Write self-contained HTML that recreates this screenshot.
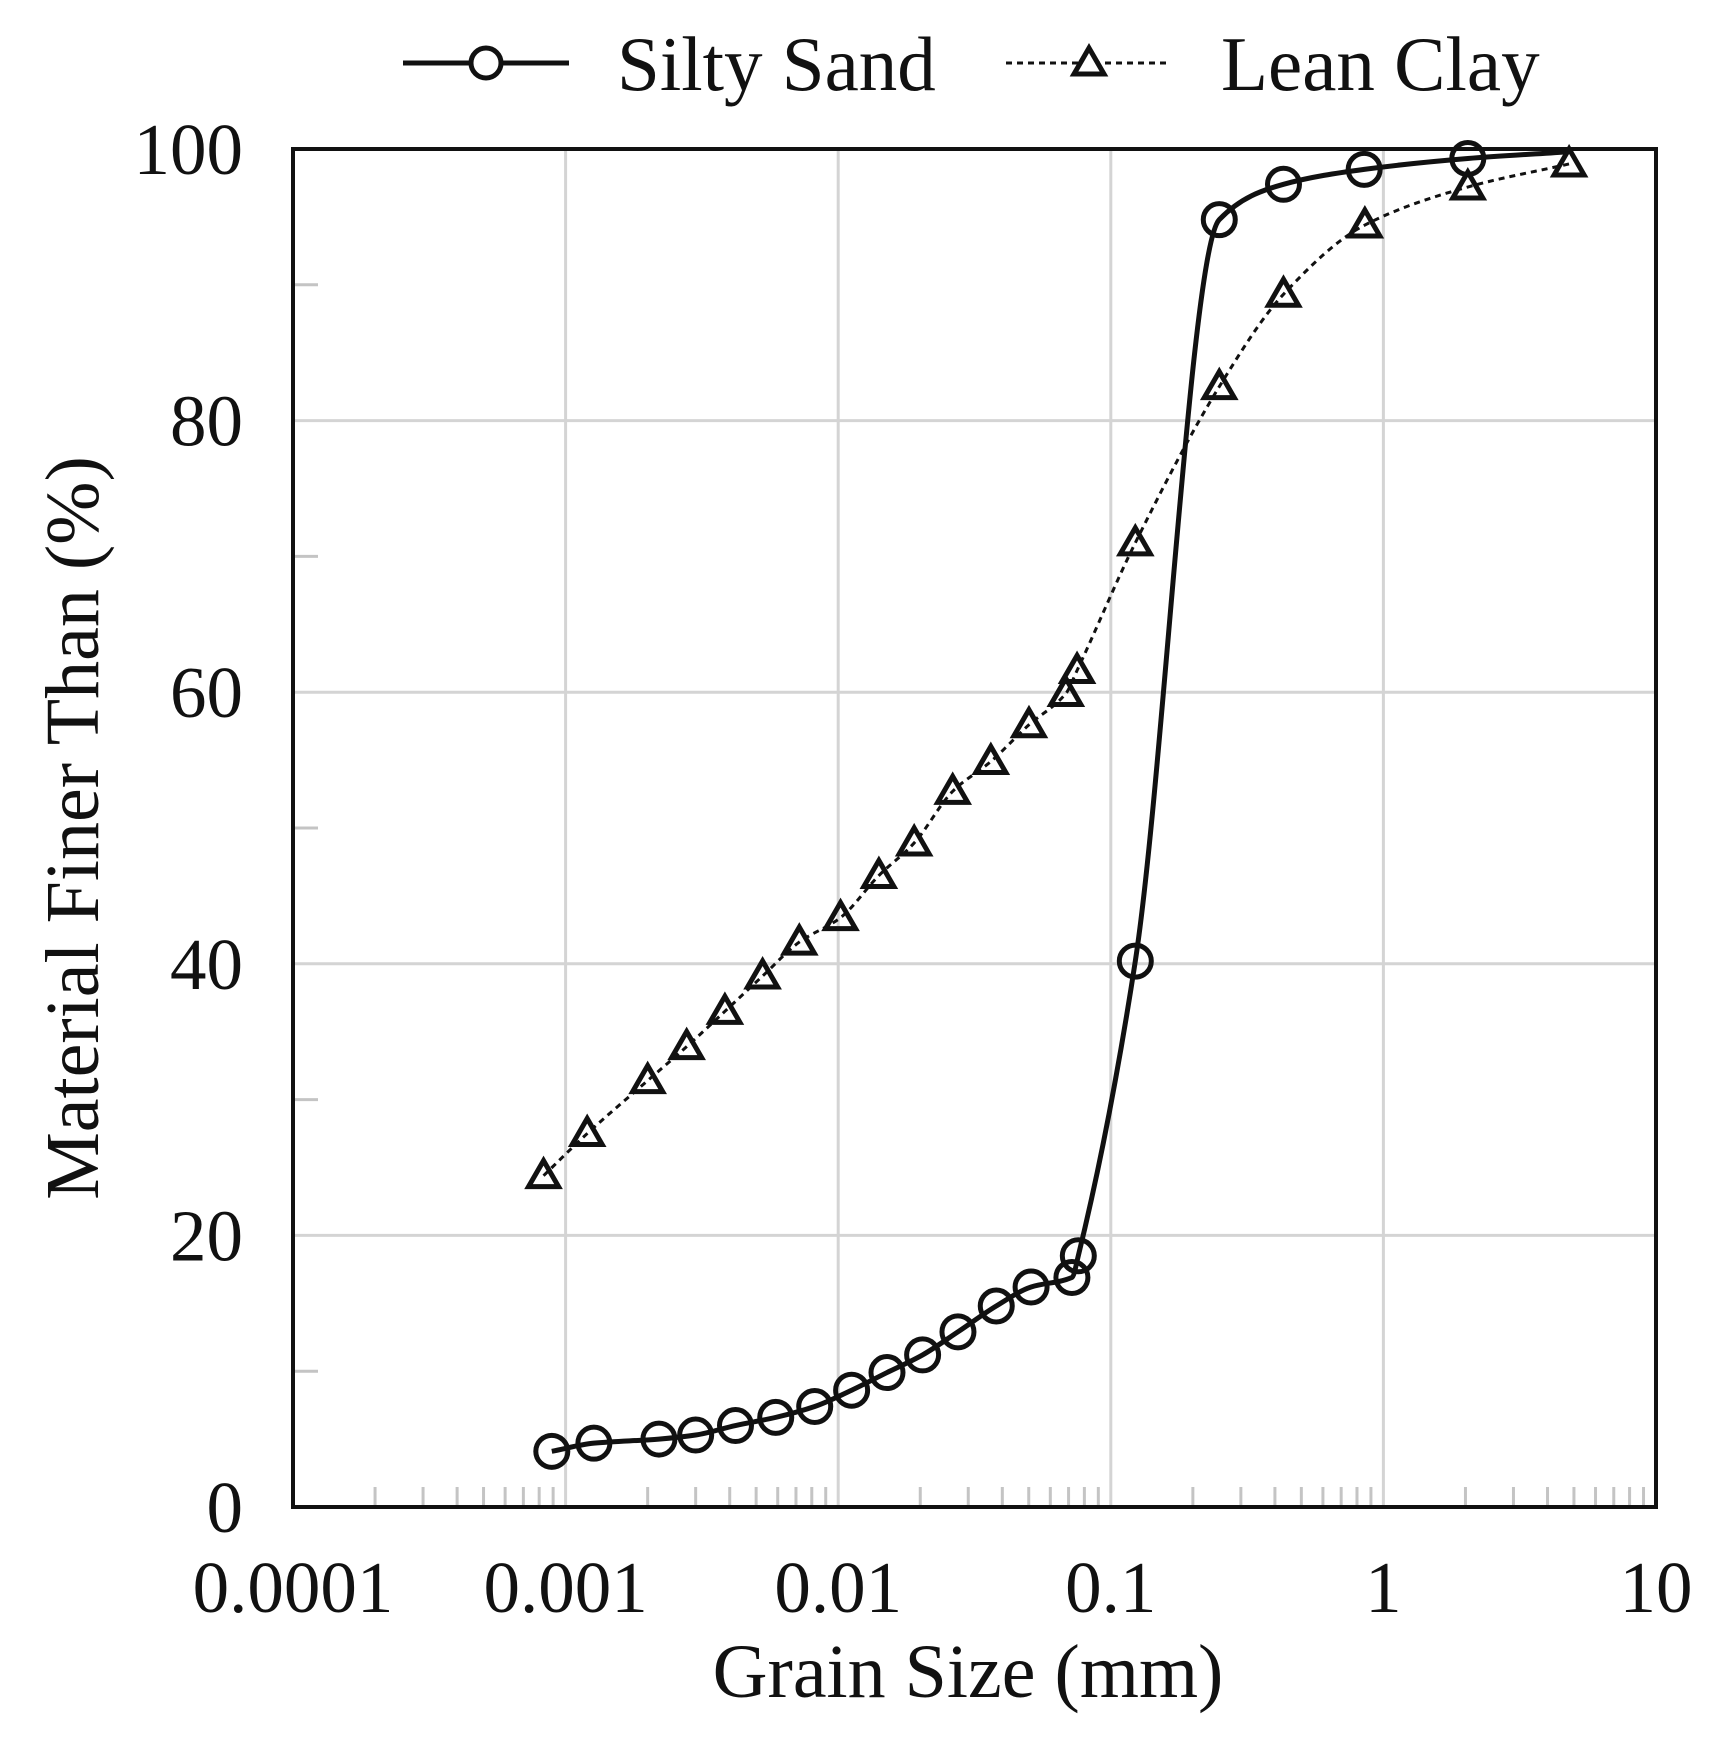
<!DOCTYPE html>
<html><head><meta charset="utf-8"><style>
html,body{margin:0;padding:0;background:#fff;}
svg{display:block;font-family:"Liberation Serif",serif;}
</style></head><body>
<svg id="chart" width="1723" height="1746" viewBox="0 0 1723 1746" xmlns="http://www.w3.org/2000/svg">
<g id="grid"></g>
<g id="ticks"></g>
<rect x="293" y="149" width="1363" height="1358" fill="none" stroke="#111" stroke-width="4"/>
<g id="series"></g>
<g id="labels" font-size="73" fill="#111"></g>
<text x="968" y="1697" font-size="76" text-anchor="middle" fill="#111">Grain Size (mm)</text>
<text transform="translate(98,828) rotate(-90)" font-size="76" text-anchor="middle" fill="#111">Material Finer Than (%)</text>
<g>
<g>
<line x1="403" y1="63" x2="569" y2="63" stroke="#111" stroke-width="5"/>
<circle cx="486" cy="63" r="15" fill="#fff" stroke="#111" stroke-width="5"/>
<text x="617" y="90" font-size="77" fill="#111">Silty Sand</text>
</g>
<g>
<line x1="1006" y1="63" x2="1166" y2="63" stroke="#111" stroke-width="3" stroke-dasharray="6 5"/>
<polygon points="1089,48 1104,74 1074,74" fill="#fff" stroke="#111" stroke-width="5"/>
<text x="1221" y="90" font-size="77" fill="#111">Lean Clay</text>
</g>
</g>
</svg>
<script>
const xTickValues=[0.0001,0.001,0.01,0.1,1,10];
const xTickLabels=["0.0001","0.001","0.01","0.1","1","10"];
const yTickValues=[0,20,40,60,80,100];
const siltySandSize=[0.00089,0.00127,0.0022,0.003,0.0042,0.0059,0.0082,0.0112,0.0151,0.0204,0.0275,0.038,0.051,0.072,0.076,0.123,0.25,0.43,0.85,2.04,4.8];
const siltySandFiner=[4.1,4.7,5.0,5.3,6.0,6.6,7.4,8.6,9.9,11.2,12.9,14.8,16.2,16.9,18.5,40.2,94.8,97.4,98.5,99.3,99.8];
const siltySandMarkers=20;
const leanClaySize=[0.00083,0.0012,0.002,0.00278,0.00384,0.00528,0.0072,0.0102,0.0141,0.019,0.0263,0.0363,0.0501,0.0684,0.0752,0.123,0.25,0.43,0.855,2.04,4.8];
const leanClayFiner=[24.4,27.5,31.4,33.9,36.5,39.1,41.6,43.4,46.5,48.9,52.7,54.9,57.6,59.9,61.6,71.0,82.5,89.3,94.4,97.2,98.9];
const NS="http://www.w3.org/2000/svg";
const L=293,R=1656,T=149,B=1507;
const xs=v=>L+(Math.log10(v)+4)/5*(R-L);
const ys=v=>B-v/100*(B-T);
function mk(tag,attrs,parent){const e=document.createElementNS(NS,tag);for(const k in attrs)e.setAttribute(k,attrs[k]);parent.appendChild(e);return e;}
const grid=document.getElementById('grid'),ticks=document.getElementById('ticks'),labels=document.getElementById('labels'),series=document.getElementById('series');
xTickValues.forEach((v,i)=>{
  const gl=mk('line',{x1:xs(v),x2:xs(v),y1:T,y2:B,stroke:'#d4d4d4','stroke-width':3},grid);
  
  
  const t=mk('text',{x:xs(v),y:1612,'text-anchor':'middle'},labels);
  t.textContent=xTickLabels[i];
  
  
  if(i<xTickValues.length-1){for(let m=2;m<=9;m++){const mv=v*m;
    const tk=mk('line',{x1:xs(mv),x2:xs(mv),y1:B-20,y2:B,stroke:'#c4c4c4','stroke-width':3},ticks);
    
    }}
});
yTickValues.forEach(v=>{
  const gl=mk('line',{x1:L,x2:R,y1:ys(v),y2:ys(v),stroke:'#d4d4d4','stroke-width':3},grid);
  
  
  const t=mk('text',{x:243,y:ys(v)+25,'text-anchor':'end'},labels);
  t.textContent=String(v);
  
  
  if(v<100){const tk=mk('line',{x1:L,x2:L+25,y1:ys(v+10),y2:ys(v+10),stroke:'#c4c4c4','stroke-width':3},ticks);
    
    }
});
function monoPath(px,py){
  const n=px.length,d=[],m=new Array(n);
  for(let i=0;i<n-1;i++)d.push((py[i+1]-py[i])/(px[i+1]-px[i]));
  m[0]=d[0];m[n-1]=d[n-2];
  for(let i=1;i<n-1;i++){if(d[i-1]*d[i]<=0)m[i]=0;else{m[i]=2/(1/d[i-1]+1/d[i]);}}
  let s='M'+px[0]+','+py[0];
  for(let i=0;i<n-1;i++){const h=px[i+1]-px[i];
    s+=' C'+(px[i]+h/3)+','+(py[i]+m[i]*h/3)+' '+(px[i+1]-h/3)+','+(py[i+1]-m[i+1]*h/3)+' '+px[i+1]+','+py[i+1];}
  return s;
}
const sp=monoPath(siltySandSize.map(xs),siltySandFiner.map(ys));
const sl=mk('path',{d:sp,fill:'none',stroke:'#111','stroke-width':5},series);


const cp=monoPath(leanClaySize.map(xs),leanClayFiner.map(ys));
const cl=mk('path',{d:cp,fill:'none',stroke:'#111','stroke-width':3,'stroke-dasharray':'6 5'},series);


leanClaySize.forEach((v,i)=>{const x=xs(v),y=ys(leanClayFiner[i]);
  const p=mk('polygon',{points:`${x},${y-15} ${x+15},${y+11} ${x-15},${y+11}`,fill:'none',stroke:'#111','stroke-width':5},series);
  
  });
siltySandSize.forEach((v,i)=>{if(i>=siltySandMarkers)return;
  const c=mk('circle',{cx:xs(v),cy:ys(siltySandFiner[i]),r:16,fill:'none',stroke:'#111','stroke-width':5},series);
  
  });
</script>
</body></html>
